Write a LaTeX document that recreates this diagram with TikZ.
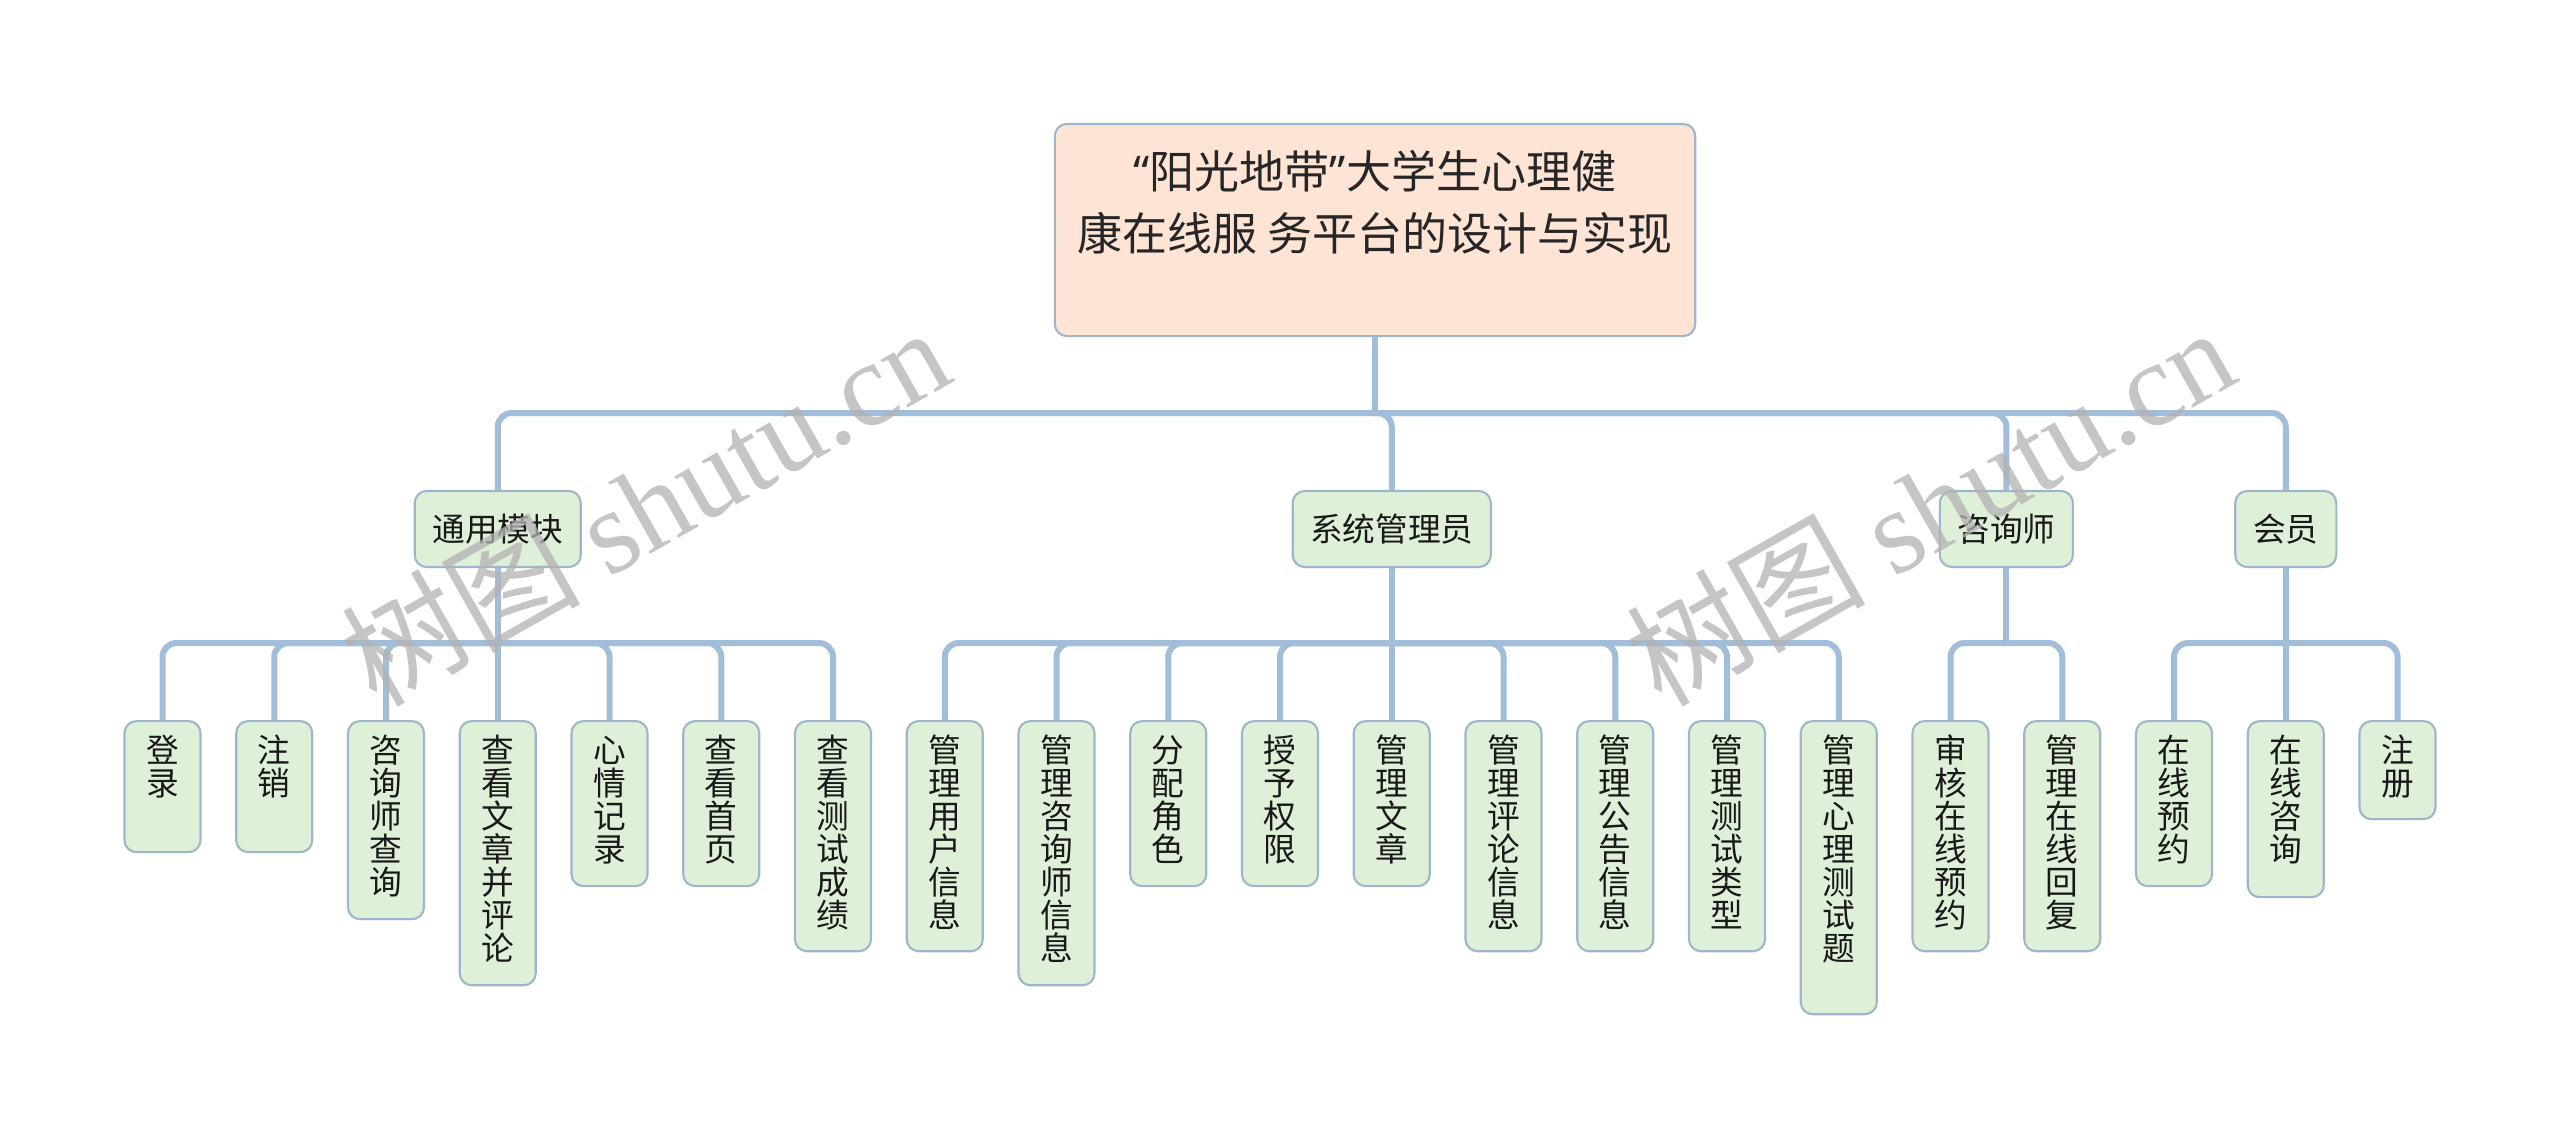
\documentclass[tikz,border=0pt]{standalone}
\usepackage{fontspec}
\setmainfont{Noto Sans CJK SC}
\newfontfamily\latinsans{Noto Sans}
\newfontfamily\wmserif{Liberation Serif}
\definecolor{conncol}{HTML}{A2BDD8}
\definecolor{bordcol}{HTML}{9DB6CE}
\definecolor{rootfill}{HTML}{FEE4D5}
\definecolor{leaffill}{HTML}{DFF0D8}
\newcommand{\vlabel}[2]{\parbox[t][#1][t]{0.76cm}{\fontsize{9.3pt}{0.33cm}\selectfont\centering\rule{0pt}{0.41cm}#2}}
\tikzset{
  conn/.style={draw=conncol, line width=0.06cm},
  rconn/.style={conn, rounded corners=0.14cm},
  rootbox/.style={draw=bordcol, fill=rootfill, line width=0.6pt, rounded corners=0.12cm, minimum width=6.4cm, minimum height=2.12cm, inner sep=0},
  roottext/.style={align=center, inner sep=0, font=\fontsize{12.8pt}{17.6pt}\selectfont, text=black!85},
  midbox/.style={draw=bordcol, fill=leaffill, line width=0.6pt, rounded corners=0.12cm, minimum height=0.76cm, inner sep=0, font=\fontsize{9.3pt}{11pt}\selectfont, text=black!90},
  leafbox/.style={draw=bordcol, fill=leaffill, line width=0.6pt, rounded corners=0.12cm, inner sep=0, anchor=north, text=black!90},
  wmark/.style={text=black!30, text opacity=0.75, inner sep=0, font=\fontsize{34pt}{34pt}\selectfont}
}
\begin{document}
\begin{tikzpicture}[x=0.01cm, y=-0.01cm]
\useasboundingbox[fill=white] (0,0) rectangle (2560,1138);

% root
\node[rootbox] (root) at (1375,230) {};
\node[roottext] (roottxt) at (1375,202) {{\latinsans “}阳光地带{\latinsans ”}大学生心理健\\康在线服 务平台的设计与实现};

% level 1
\node[midbox, minimum width=1.66cm] (m1) at (497.75,529) {通用模块};
\node[midbox, minimum width=1.98cm] (m2) at (1391.75,529) {系统管理员};
\node[midbox, minimum width=1.33cm] (m3) at (2006.375,529) {咨询师};
\node[midbox, minimum width=1.01cm] (m4) at (2285.75,529) {会员};

% leaves
\node[leafbox] (l0) at (162.5,720) {\vlabel{1.31cm}{登\\录}};
\node[leafbox] (l1) at (274.25,720) {\vlabel{1.31cm}{注\\销}};
\node[leafbox] (l2) at (386,720) {\vlabel{1.98cm}{咨\\询\\师\\查\\询}};
\node[leafbox] (l3) at (497.75,720) {\vlabel{2.64cm}{查\\看\\文\\章\\并\\评\\论}};
\node[leafbox] (l4) at (609.5,720) {\vlabel{1.65cm}{心\\情\\记\\录}};
\node[leafbox] (l5) at (721.25,720) {\vlabel{1.65cm}{查\\看\\首\\页}};
\node[leafbox] (l6) at (833,720) {\vlabel{2.30cm}{查\\看\\测\\试\\成\\绩}};
\node[leafbox] (l7) at (944.75,720) {\vlabel{2.30cm}{管\\理\\用\\户\\信\\息}};
\node[leafbox] (l8) at (1056.5,720) {\vlabel{2.64cm}{管\\理\\咨\\询\\师\\信\\息}};
\node[leafbox] (l9) at (1168.25,720) {\vlabel{1.65cm}{分\\配\\角\\色}};
\node[leafbox] (l10) at (1280,720) {\vlabel{1.65cm}{授\\予\\权\\限}};
\node[leafbox] (l11) at (1391.75,720) {\vlabel{1.65cm}{管\\理\\文\\章}};
\node[leafbox] (l12) at (1503.5,720) {\vlabel{2.30cm}{管\\理\\评\\论\\信\\息}};
\node[leafbox] (l13) at (1615.25,720) {\vlabel{2.30cm}{管\\理\\公\\告\\信\\息}};
\node[leafbox] (l14) at (1727,720) {\vlabel{2.30cm}{管\\理\\测\\试\\类\\型}};
\node[leafbox] (l15) at (1838.75,720) {\vlabel{2.93cm}{管\\理\\心\\理\\测\\试\\题}};
\node[leafbox] (l16) at (1950.5,720) {\vlabel{2.30cm}{审\\核\\在\\线\\预\\约}};
\node[leafbox] (l17) at (2062.25,720) {\vlabel{2.30cm}{管\\理\\在\\线\\回\\复}};
\node[leafbox] (l18) at (2174,720) {\vlabel{1.65cm}{在\\线\\预\\约}};
\node[leafbox] (l19) at (2285.75,720) {\vlabel{1.76cm}{在\\线\\咨\\询}};
\node[leafbox] (l20) at (2397.5,720) {\vlabel{0.98cm}{注\\册}};

% bus junctions
\coordinate (b0) at (1375,413);
\coordinate (b1) at (497.75,643);
\coordinate (b2) at (1391.75,643);
\coordinate (b3) at (2006.375,643);
\coordinate (b4) at (2285.75,643);

% root to level 1
\draw[conn] (root.south) -- (b0);
\foreach \c in {m1,m2,m3,m4} \draw[rconn] (b0) -| (\c.north);

% level 1 to leaves
\draw[conn] (m1.south) -- (b1);
\foreach \c in {l0,l1,l2,l4,l5,l6} \draw[rconn] (b1) -| (\c.north);
\draw[conn] (b1) -- (l3.north);

\draw[conn] (m2.south) -- (b2);
\foreach \c in {l7,l8,l9,l10,l12,l13,l14,l15} \draw[rconn] (b2) -| (\c.north);
\draw[conn] (b2) -- (l11.north);

\draw[conn] (m3.south) -- (b3);
\foreach \c in {l16,l17} \draw[rconn] (b3) -| (\c.north);

\draw[conn] (m4.south) -- (b4);
\foreach \c in {l18,l20} \draw[rconn] (b4) -| (\c.north);
\draw[conn] (b4) -- (l19.north);

% watermarks
\node[wmark, rotate=29.5] (wm1) at (645,505) {树图 {\wmserif shutu.cn}};
\node[wmark, rotate=29.5] (wm2) at (1930,505) {树图 {\wmserif shutu.cn}};
\end{tikzpicture}
\end{document}
